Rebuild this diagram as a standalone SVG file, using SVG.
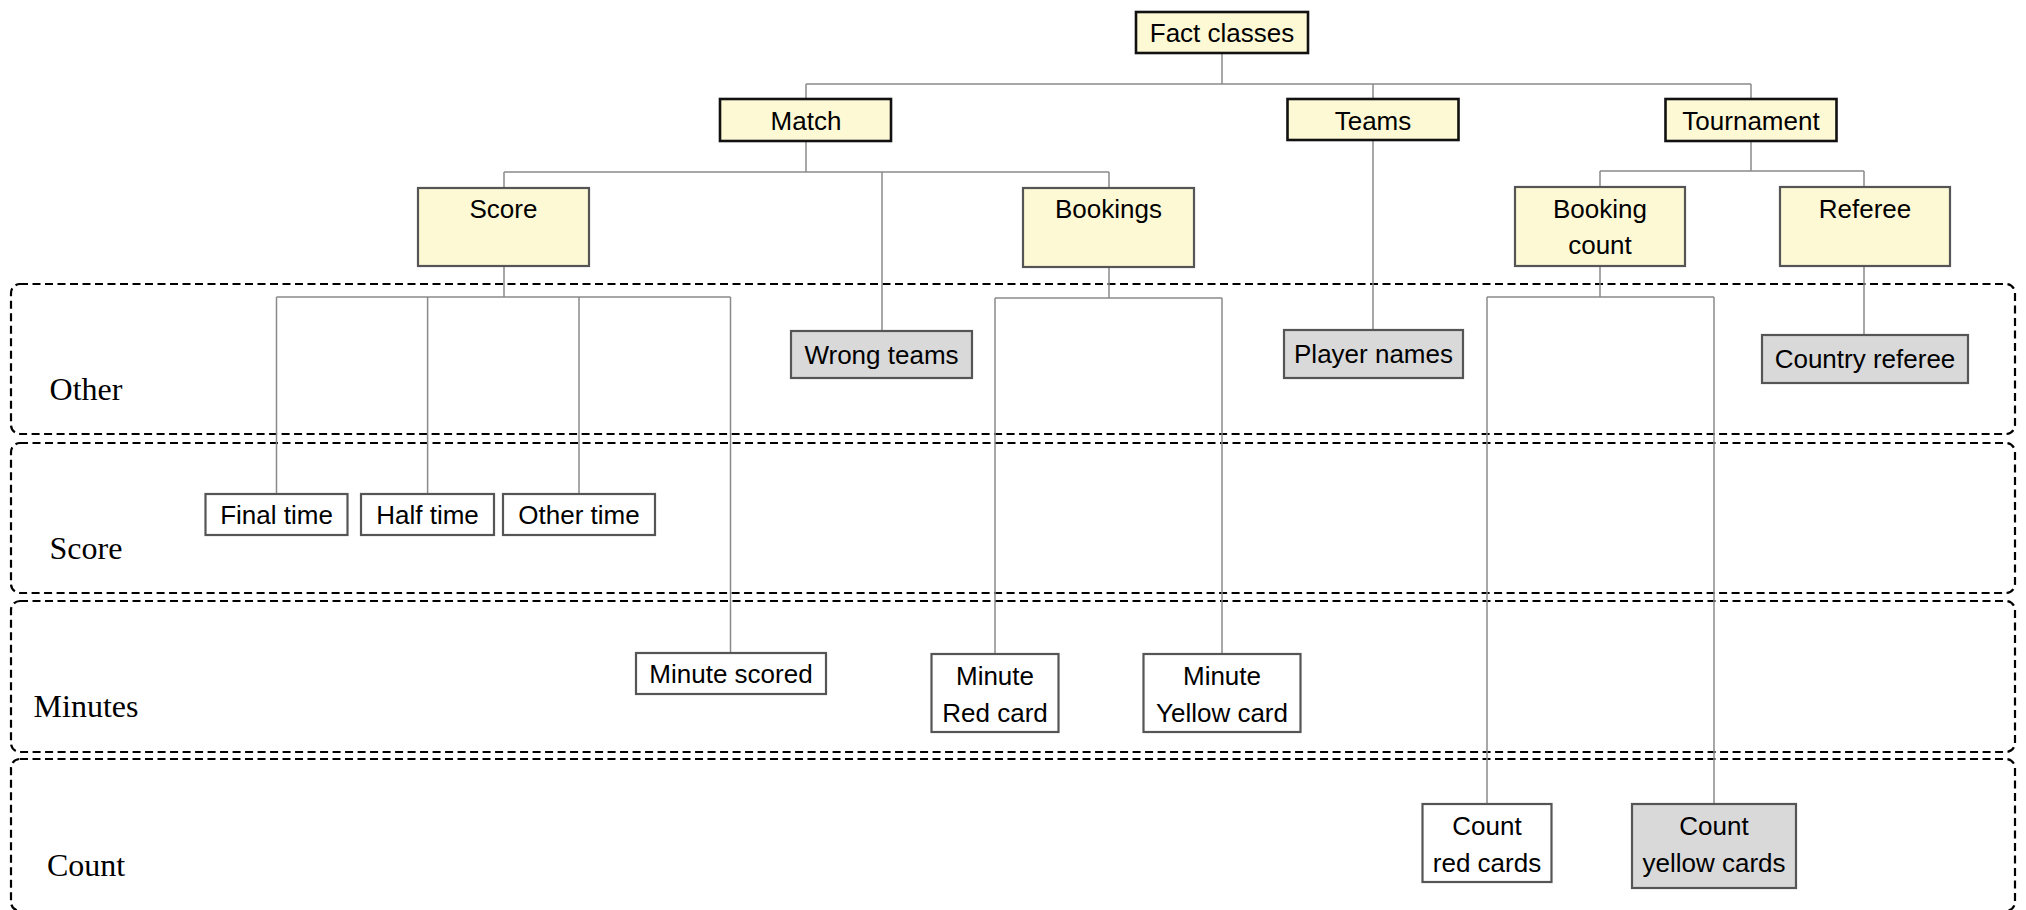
<svg xmlns="http://www.w3.org/2000/svg" width="2026" height="910" viewBox="0 0 2026 910">
<style>
.region{fill:none;stroke:#000;stroke-width:2.2;stroke-dasharray:8 4.5}
.rlabel{font-family:"Liberation Serif",serif;font-size:32px;fill:#000;text-anchor:middle}
.conn{fill:none;stroke:#8a8a8a;stroke-width:1.5}
.top{fill:#fef9d5;stroke:#111;stroke-width:2.6}
.mid{fill:#fef9d5;stroke:#555;stroke-width:2.2}
.leaf{fill:#fff;stroke:#555;stroke-width:2.2}
.grey{fill:#d9d9d9;stroke:#555;stroke-width:2.2}
.t{font-family:"Liberation Sans",Arial,sans-serif;font-size:26px;fill:#000;text-anchor:middle}
</style>
<g id="regions">
<rect class="region" x="11" y="284" width="2004" height="150" rx="9"/>
<rect class="region" x="11" y="443" width="2004" height="150" rx="9"/>
<rect class="region" x="11" y="601" width="2004" height="151" rx="9"/>
<rect class="region" x="11" y="759" width="2004" height="152" rx="9"/>
<text class="rlabel" x="86" y="400">Other</text>
<text class="rlabel" x="86" y="559">Score</text>
<text class="rlabel" x="86" y="717">Minutes</text>
<text class="rlabel" x="86" y="876">Count</text>
</g>
<g id="connectors">
<path class="conn" d="M1222 53V84M806 84H1751M806 84V99M1373 84V99M1751 84V99"/>
<path class="conn" d="M806 141V172M504 172H1109M504 172V188M882 172V331M1109 172V188"/>
<path class="conn" d="M1373 140V330"/>
<path class="conn" d="M1751 141V171M1600 171H1864M1600 171V187M1864 171V187"/>
<path class="conn" d="M504 266V297M276.5 297H730.5M276.5 297V494M427.6 297V494M579 297V494M730.5 297V653"/>
<path class="conn" d="M1109 267V298M995 298H1222M995 298V654M1222 298V654"/>
<path class="conn" d="M1600 266V297M1487 297H1714M1487 297V804M1714 297V804"/>
<path class="conn" d="M1864 266V335"/>
</g>
<g id="fact-classes"><rect class="top" x="1136" y="12" width="172" height="41"/><text class="t" x="1222" y="42">Fact classes</text></g>
<g id="match"><rect class="top" x="720" y="99" width="171" height="42"/><text class="t" x="806" y="130">Match</text></g>
<g id="teams"><rect class="top" x="1287.5" y="99" width="171" height="41"/><text class="t" x="1373" y="130">Teams</text></g>
<g id="tournament"><rect class="top" x="1665.5" y="99" width="171" height="42"/><text class="t" x="1751" y="130">Tournament</text></g>
<g id="score"><rect class="mid" x="418" y="188" width="171" height="78"/><text class="t" x="503.5" y="218">Score</text></g>
<g id="bookings"><rect class="mid" x="1023" y="188" width="171" height="79"/><text class="t" x="1108.5" y="218">Bookings</text></g>
<g id="booking-count"><rect class="mid" x="1515" y="187" width="170" height="79"/><text class="t" x="1600" y="218">Booking</text><text class="t" x="1600" y="254">count</text></g>
<g id="referee"><rect class="mid" x="1780" y="187" width="170" height="79"/><text class="t" x="1865" y="218">Referee</text></g>
<g id="wrong-teams"><rect class="grey" x="791" y="331" width="181" height="47"/><text class="t" x="881.5" y="364">Wrong teams</text></g>
<g id="player-names"><rect class="grey" x="1284" y="330" width="179" height="48"/><text class="t" x="1373.5" y="363">Player names</text></g>
<g id="country-referee"><rect class="grey" x="1762" y="335" width="206" height="48"/><text class="t" x="1865" y="368">Country referee</text></g>
<g id="final-time"><rect class="leaf" x="205.5" y="494" width="142" height="41"/><text class="t" x="276.5" y="524">Final time</text></g>
<g id="half-time"><rect class="leaf" x="361" y="494" width="133" height="41"/><text class="t" x="427.5" y="524">Half time</text></g>
<g id="other-time"><rect class="leaf" x="503" y="494" width="152" height="41"/><text class="t" x="579" y="524">Other time</text></g>
<g id="minute-scored"><rect class="leaf" x="636" y="653" width="190" height="41"/><text class="t" x="731" y="683">Minute scored</text></g>
<g id="minute-red-card"><rect class="leaf" x="931.5" y="654" width="127" height="78"/><text class="t" x="995" y="685">Minute</text><text class="t" x="995" y="722">Red card</text></g>
<g id="minute-yellow-card"><rect class="leaf" x="1143.5" y="654" width="157" height="78"/><text class="t" x="1222" y="685">Minute</text><text class="t" x="1222" y="722">Yellow card</text></g>
<g id="count-red-cards"><rect class="leaf" x="1422.5" y="804" width="129" height="78"/><text class="t" x="1487" y="835">Count</text><text class="t" x="1487" y="872">red cards</text></g>
<g id="count-yellow-cards"><rect class="grey" x="1632" y="804" width="164" height="84"/><text class="t" x="1714" y="835">Count</text><text class="t" x="1714" y="872">yellow cards</text></g>
</svg>
